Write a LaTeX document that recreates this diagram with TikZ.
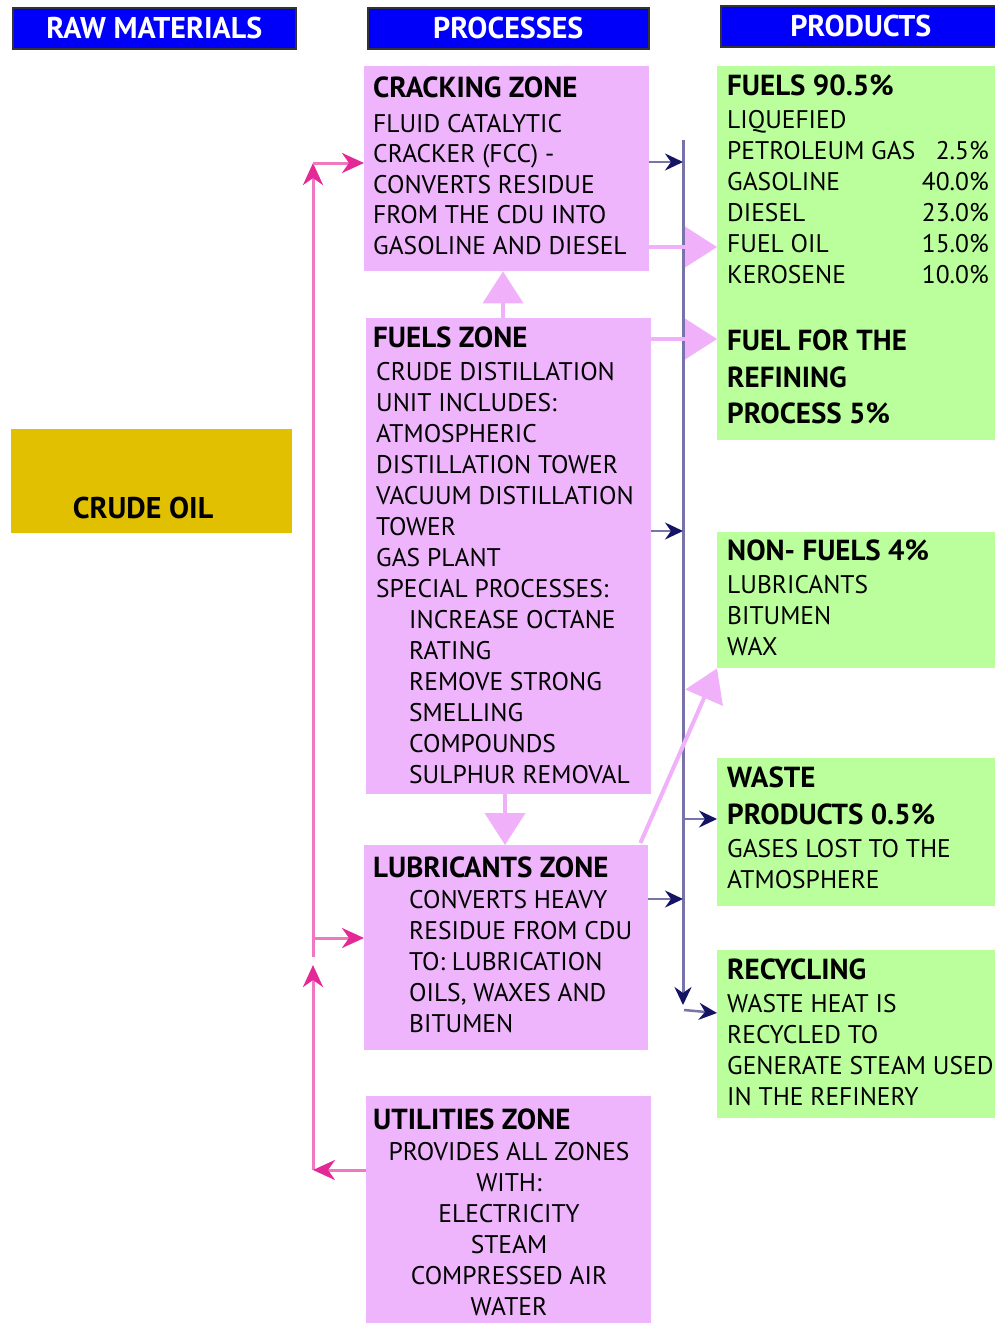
\documentclass[tikz,border=0pt]{standalone}
\usepackage{fontspec}
\setmainfont{PT Sans}
\usetikzlibrary{arrows.meta}
\definecolor{hdrblue}{RGB}{0,0,250}
\definecolor{pinkbox}{RGB}{238,180,252}
\definecolor{greenbox}{RGB}{186,255,156}
\definecolor{crudecol}{RGB}{224,192,0}
\definecolor{pinkline}{RGB}{240,120,190}
\definecolor{pinkhead}{RGB}{228,40,150}
\definecolor{navyline}{RGB}{120,115,170}
\definecolor{navyhead}{RGB}{20,20,100}
\definecolor{fatpink}{RGB}{240,176,250}
\tikzset{
  hdr/.style={draw=black!80, line width=1.5pt, fill=hdrblue, inner sep=0pt, anchor=north west,
    text=white, font=\fontsize{30}{34}\selectfont\bfseries},
  zone/.style={fill=pinkbox, draw=none, inner sep=0pt, anchor=north west},
  prod/.style={fill=greenbox, draw=none, inner sep=0pt, anchor=north west},
  ttl/.style={anchor=base west, inner sep=0pt, font=\fontsize{29}{31}\selectfont\bfseries},
  body/.style={anchor=base west, inner sep=0pt, font=\fontsize{25.5}{31}\selectfont},
  cbody/.style={anchor=base, inner sep=0pt, font=\fontsize{25.5}{31}\selectfont},
  pct/.style={anchor=base east, inner sep=0pt, font=\fontsize{25.5}{31}\selectfont},
  pinkarrow/.style={draw=pinkline, line width=3pt, -{Stealth[length=22pt,width=20pt,inset=7pt,color=pinkhead,fill=pinkhead]}},
  navyarrow/.style={draw=navyline, line width=2.5pt, -{Stealth[length=18pt,width=17pt,inset=6pt,color=navyhead,fill=navyhead]}},
  navyplain/.style={draw=navyline, line width=3pt},
  fatarrow/.style={draw=fatpink, line width=4pt, -{Triangle[length=32pt,width=40pt,color=fatpink,fill=fatpink]}},
}
\begin{document}
\begin{tikzpicture}[x=1pt,y=-1pt]
\useasboundingbox (0,0) rectangle (994,1323);
\fill[white] (0,0) rectangle (994,1323);

% headers
\node[hdr, minimum width=283pt, minimum height=41pt] (hraw) at (12,7) {RAW MATERIALS};
\node[hdr, minimum width=281pt, minimum height=41pt] (hproc) at (367,7) {PROCESSES};
\node[hdr, minimum width=280pt, minimum height=41pt] (hprod) at (720,5) {PRODUCTS};

% crude oil
\node[fill=crudecol, inner sep=0pt, anchor=north west, minimum width=281pt, minimum height=104pt] (crude) at (11,429) {};
\node[inner sep=0pt, font=\fontsize{30}{34}\selectfont\bfseries] (crudet) at (143,508) {CRUDE OIL};

% process zones
\node[zone, minimum width=285pt, minimum height=205pt] (crack) at (364,66) {};
\node[zone, minimum width=285pt, minimum height=476pt] (fuelz) at (366,318) {};
\node[zone, minimum width=284pt, minimum height=205pt] (lubz) at (364,845) {};
\node[zone, minimum width=285pt, minimum height=230pt] (utilz) at (366,1096) {};

% product boxes
\node[prod, minimum width=280pt, minimum height=374pt] (fuelp) at (717,66) {};
\node[prod, minimum width=280pt, minimum height=136pt] (nonf) at (717,532) {};
\node[prod, minimum width=280pt, minimum height=148pt] (waste) at (717,758) {};
\node[prod, minimum width=280pt, minimum height=168pt] (recyc) at (717,950) {};

% cracking text
\node[ttl] (crt) at (373,97) {CRACKING ZONE};
\foreach \t [count=\i] in {FLUID CATALYTIC, CRACKER (FCC) -, CONVERTS RESIDUE, FROM THE CDU INTO, GASOLINE AND DIESEL}
  \node[body] (cr\i) at (373,{132+30.5*(\i-1)}) {\t};

% fuels zone text
\node[ttl] (fzt) at (373,347) {FUELS ZONE};
\foreach \t [count=\i] in {CRUDE DISTILLATION, UNIT INCLUDES:, ATMOSPHERIC, DISTILLATION TOWER, VACUUM DISTILLATION, TOWER, GAS PLANT, SPECIAL PROCESSES:}
  \node[body] (fz\i) at (376,{380+31*(\i-1)}) {\t};
\foreach \t [count=\i] in {INCREASE OCTANE, RATING, REMOVE STRONG, SMELLING, COMPOUNDS, SULPHUR REMOVAL}
  \node[body] (fzb\i) at (409,{628+31*(\i-1)}) {\t};

% lubricants text
\node[ttl] (lzt) at (373,877) {LUBRICANTS ZONE};
\foreach \t [count=\i] in {CONVERTS HEAVY, RESIDUE FROM CDU, TO: LUBRICATION, {OILS, WAXES AND}, BITUMEN}
  \node[body] (lz\i) at (409,{908+31*(\i-1)}) {\t};

% utilities text
\node[ttl] (uzt) at (373,1129) {UTILITIES ZONE};
\foreach \t [count=\i] in {PROVIDES ALL ZONES, WITH:, ELECTRICITY, STEAM, COMPRESSED AIR, WATER}
  \node[cbody] (uz\i) at (509,{1160+31*(\i-1)}) {\t};

% fuels products
\node[ttl] (fpt) at (727,95) {FUELS 90.5\%};
\foreach \t [count=\i] in {LIQUEFIED, PETROLEUM GAS, GASOLINE, DIESEL, FUEL OIL, KEROSENE}
  \node[body] (fp\i) at (727,{128+31*(\i-1)}) {\t};
\node[pct] (pc2) at (989,159) {2.5\%};
\node[pct] (pc3) at (989,190) {40.0\%};
\node[pct] (pc4) at (989,221) {23.0\%};
\node[pct] (pc5) at (989,252) {15.0\%};
\node[pct] (pc6) at (989,283) {10.0\%};
\node[ttl] (ff1) at (727,350) {FUEL FOR THE};
\node[ttl] (ff2) at (727,387) {REFINING};
\node[ttl] (ff3) at (727,423) {PROCESS 5\%};

% non-fuels
\node[ttl] (nft) at (727,560) {NON- FUELS 4\%};
\foreach \t [count=\i] in {LUBRICANTS, BITUMEN, WAX}
  \node[body] (nf\i) at (727,{593+31*(\i-1)}) {\t};

% waste
\node[ttl] (wt1) at (727,787) {WASTE};
\node[ttl] (wt2) at (727,824) {PRODUCTS 0.5\%};
\node[body] (w1) at (727,857) {GASES LOST TO THE};
\node[body] (w2) at (727,888) {ATMOSPHERE};

% recycling
\node[ttl] (rct) at (727,979) {RECYCLING};
\foreach \t [count=\i] in {WASTE HEAT IS, RECYCLED TO, GENERATE STEAM USED, IN THE REFINERY}
  \node[body] (rc\i) at (727,{1012+31*(\i-1)}) {\t};

% left pink feed lines
\coordinate (ptop) at (313,163);
\coordinate (pmid) at (313,957);
\coordinate (plub) at (313,938);
\coordinate (pbot) at (313,1170);
\coordinate (pup) at (313,965);
\draw[pinkarrow] (pmid) -- (ptop);
\draw[pinkarrow] (ptop) -- (crack.west |- ptop);
\draw[pinkarrow] (plub) -- (lubz.west |- plub);
\draw[pinkarrow] (pbot) -- (pup);
\draw[pinkarrow] (utilz.west |- pbot) -- (pbot);

% fat light pink arrows
\draw[fatarrow] (fuelz.north -| 503,0) -- (crack.south -| 503,0);
\draw[fatarrow] (fuelz.south -| 505,0) -- (lubz.north -| 505,0);

% navy spine
\coordinate (ntop) at (683,140);
\coordinate (nbot) at (683,1005);
\draw[navyplain, -{Stealth[length=18pt,width=17pt,inset=6pt,color=navyhead,fill=navyhead]}] (ntop) -- (nbot);
\coordinate (n1) at (683,162);
\coordinate (n2) at (683,531);
\coordinate (n3) at (683,899);
\coordinate (n4) at (683,819);
\coordinate (n5) at (684,1010);
\draw[navyarrow] (crack.east |- n1) -- (n1);
\draw[navyarrow] (fuelz.east |- n2) -- (n2);
\draw[navyarrow] (lubz.east |- n3) -- (n3);
\draw[navyarrow] (n4) -- (waste.west |- n4);
\draw[navyarrow] (n5) -- (recyc.west |- 0,1013);

% light pink arrows to products (drawn over spine)
\coordinate (f1) at (649,247);
\coordinate (f2) at (651,339);
\draw[fatarrow] (f1) -- (fuelp.west |- f1);
\draw[fatarrow] (f2) -- (fuelp.west |- f2);
\draw[fatarrow] (lubz.north east) ++(-8,-2) coordinate (ld) -- (nonf.south west);
\end{tikzpicture}
\end{document}
